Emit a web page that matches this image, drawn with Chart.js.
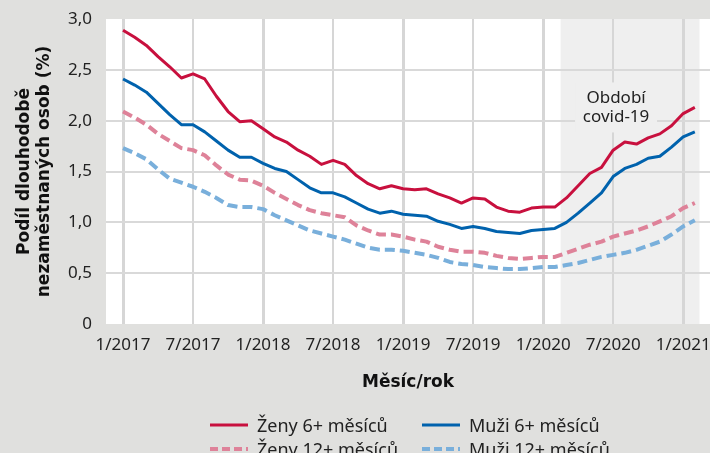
<!DOCTYPE html>
<html lang="cs">
<head>
<meta charset="utf-8">
<script src="https://cdn.jsdelivr.net/npm/chart.js@4.4.1/dist/chart.umd.min.js"></script>
<style>
  html, body { margin: 0; padding: 0; background: #e0e0de; width: 710px; height: 453px; overflow: hidden; }
  #wrap { position: relative; width: 710px; height: 453px; }
  .item { position: absolute; display: flex; align-items: center; white-space: nowrap;
          font-family: "Noto Sans", sans-serif; font-size: 18px; color: #222; line-height: 20px; }
  .item svg { margin-right: 9px; }
</style>
</head>
<body>
<div id="wrap">
  <canvas id="chart" width="710" height="453"></canvas>
  <div id="legend"></div>
</div>
<script>
// měsíce 1/2017 .. 2/2021, index = pořadí měsíce
const tickPositions = [0, 6, 12, 18, 24, 30, 36, 42, 48];
const tickLabels = ['1/2017', '7/2017', '1/2018', '7/2018', '1/2019', '7/2019', '1/2020', '7/2020', '1/2021'];

const zeny6 = [2.89, 2.82, 2.74, 2.63, 2.53, 2.42, 2.46, 2.41, 2.24, 2.09, 1.99, 2.00,
               1.92, 1.84, 1.79, 1.71, 1.65, 1.57, 1.61, 1.57, 1.46, 1.38, 1.33, 1.36,
               1.33, 1.32, 1.33, 1.28, 1.24, 1.19, 1.24, 1.23, 1.15, 1.11, 1.10, 1.14,
               1.15, 1.15, 1.24, 1.36, 1.48, 1.54, 1.71, 1.79, 1.77, 1.83, 1.87, 1.95,
               2.07, 2.13];
const muzi6 = [2.41, 2.35, 2.28, 2.17, 2.06, 1.96, 1.96, 1.89, 1.80, 1.71, 1.64, 1.64,
               1.58, 1.53, 1.50, 1.42, 1.34, 1.29, 1.29, 1.25, 1.19, 1.13, 1.09, 1.11,
               1.08, 1.07, 1.06, 1.01, 0.98, 0.94, 0.96, 0.94, 0.91, 0.90, 0.89, 0.92,
               0.93, 0.94, 1.00, 1.09, 1.19, 1.29, 1.45, 1.53, 1.57, 1.63, 1.65, 1.74,
               1.84, 1.89];
const zeny12 = [2.09, 2.03, 1.96, 1.87, 1.80, 1.73, 1.71, 1.66, 1.56, 1.47, 1.42, 1.41,
                1.36, 1.29, 1.23, 1.17, 1.12, 1.09, 1.07, 1.05, 0.97, 0.92, 0.88, 0.88,
                0.86, 0.83, 0.81, 0.76, 0.73, 0.71, 0.71, 0.70, 0.67, 0.65, 0.64, 0.65,
                0.66, 0.66, 0.70, 0.74, 0.78, 0.81, 0.86, 0.89, 0.92, 0.96, 1.01, 1.06,
                1.14, 1.19];
const muzi12 = [1.73, 1.68, 1.62, 1.52, 1.43, 1.39, 1.35, 1.30, 1.24, 1.17, 1.15, 1.15,
                1.13, 1.07, 1.02, 0.97, 0.92, 0.89, 0.86, 0.83, 0.79, 0.75, 0.73, 0.73,
                0.72, 0.70, 0.68, 0.65, 0.61, 0.59, 0.58, 0.56, 0.55, 0.54, 0.54, 0.55,
                0.56, 0.56, 0.58, 0.60, 0.63, 0.66, 0.68, 0.70, 0.73, 0.77, 0.81, 0.88,
                0.96, 1.02];

const seriesNames = ['Ženy 6+ měsíců', 'Muži 6+ měsíců', 'Ženy 12+ měsíců', 'Muži 12+ měsíců'];
const covidFrom = 37.5, covidTo = 49.4;

const font = 'Noto Sans';
const titleFont = 'DejaVu Sans';
const toPoints = arr => arr.map((v, i) => ({ x: i, y: v }));

const background = {
  id: 'background',
  beforeDraw(chart) {
    const { ctx, chartArea: a, scales: { x } } = chart;
    ctx.save();
    ctx.fillStyle = '#e0e0de';
    ctx.fillRect(0, 0, chart.width, chart.height);
    ctx.fillStyle = '#ffffff';
    ctx.fillRect(a.left, a.top, a.right - a.left, a.bottom - a.top);
    const x1 = x.getPixelForValue(covidFrom), x2 = x.getPixelForValue(covidTo);
    ctx.fillStyle = '#efefef';
    ctx.fillRect(x1, a.top, x2 - x1, a.bottom - a.top);
    ctx.restore();
  },
  beforeDatasetsDraw(chart) {
    const { ctx, scales: { x, y } } = chart;
    const cx = x.getPixelForValue(42.25), cy = y.getPixelForValue(2.13);
    ctx.save();
    ctx.fillStyle = '#efefef';
    ctx.fillRect(cx - 41, cy - 25, 82, 50);
    ctx.fillStyle = '#222';
    ctx.font = '17px "' + font + '"';
    ctx.textAlign = 'center';
    ctx.textBaseline = 'middle';
    ctx.fillText('Období', cx, cy - 9);
    ctx.fillText('covid-19', cx, cy + 10);
    ctx.restore();
  }
};

new Chart(document.getElementById('chart'), {
  type: 'line',
  data: {
    datasets: [
      { label: seriesNames[0], data: toPoints(zeny6), borderColor: '#c8103e', borderWidth: 3 },
      { label: seriesNames[1], data: toPoints(muzi6), borderColor: '#0062ad', borderWidth: 3 },
      { label: seriesNames[2], data: toPoints(zeny12), borderColor: '#de8299', borderWidth: 4, borderDash: [10, 5] },
      { label: seriesNames[3], data: toPoints(muzi12), borderColor: '#79afdb', borderWidth: 4, borderDash: [10, 5] }
    ]
  },
  options: {
    responsive: false,
    animation: false,
    layout: { padding: { top: 19, right: 0, left: 0, bottom: 0 } },
    elements: { point: { radius: 0 }, line: { tension: 0, borderCapStyle: 'butt', borderJoinStyle: 'round' } },
    plugins: { legend: { display: false }, tooltip: { enabled: false } },
    scales: {
      x: {
        type: 'linear',
        min: -1.46,
        max: 50.3,
        afterBuildTicks: s => { s.ticks = tickPositions.map(v => ({ value: v })); },
        afterFit: s => { s.height = 129; s.paddingLeft = 0; s.paddingRight = 0; },
        border: { display: false },
        grid: {
          drawTicks: false,
          color: '#d6d6d6',
          lineWidth: c => (c.tick && c.tick.value % 12 === 0 ? 3 : 2)
        },
        ticks: {
          padding: 11,
          maxRotation: 0,
          autoSkip: false,
          color: '#222',
          font: { family: font, size: 17 },
          callback: v => tickLabels[tickPositions.indexOf(v)]
        },
        title: {
          display: true,
          text: 'Měsíc/rok',
          color: '#111',
          font: { family: titleFont, size: 17, weight: 'bold' },
          padding: { top: 0, bottom: 60 }
        }
      },
      y: {
        min: 0,
        max: 3,
        afterFit: s => { s.width = 106; s.paddingTop = 0; s.paddingBottom = 0; },
        border: { display: false },
        grid: {
          drawTicks: false,
          color: c => (c.tick && (c.tick.value === 0 || c.tick.value === 3) ? 'rgba(0,0,0,0)' : '#d9d9d9'),
          lineWidth: 2
        },
        ticks: {
          stepSize: 0.5,
          padding: 14,
          color: '#222',
          font: { family: font, size: 17 },
          callback: v => (v === 0 ? '0' : v.toFixed(1).replace('.', ','))
        },
        title: {
          display: true,
          text: ['Podíl dlouhodobě', 'nezaměstnaných osob (%)'],
          color: '#111',
          font: { family: titleFont, size: 17, weight: 'bold' },
          padding: { top: 14, bottom: 0 }
        }
      }
    }
  },
  plugins: [background]
});

// legenda ve dvou sloupcích
const legendItems = [
  { left: 210, top: 415, color: '#c8103e', dash: '', w: 3 },
  { left: 422, top: 415, color: '#0062ad', dash: '', w: 3 },
  { left: 210, top: 439, color: '#de8299', dash: '8 4', w: 4 },
  { left: 422, top: 439, color: '#79afdb', dash: '8 4', w: 4 }
];
const legend = document.getElementById('legend');
legendItems.forEach((it, i) => {
  const d = document.createElement('div');
  d.className = 'item';
  d.style.left = it.left + 'px';
  d.style.top = it.top + 'px';
  d.innerHTML = '<svg width="38" height="8"><line x1="0" y1="4" x2="38" y2="4" stroke="' + it.color +
    '" stroke-width="' + it.w + '"' + (it.dash ? ' stroke-dasharray="' + it.dash + '"' : '') + '/></svg>' +
    '<span>' + seriesNames[i] + '</span>';
  legend.appendChild(d);
});
</script>
</body>
</html>
